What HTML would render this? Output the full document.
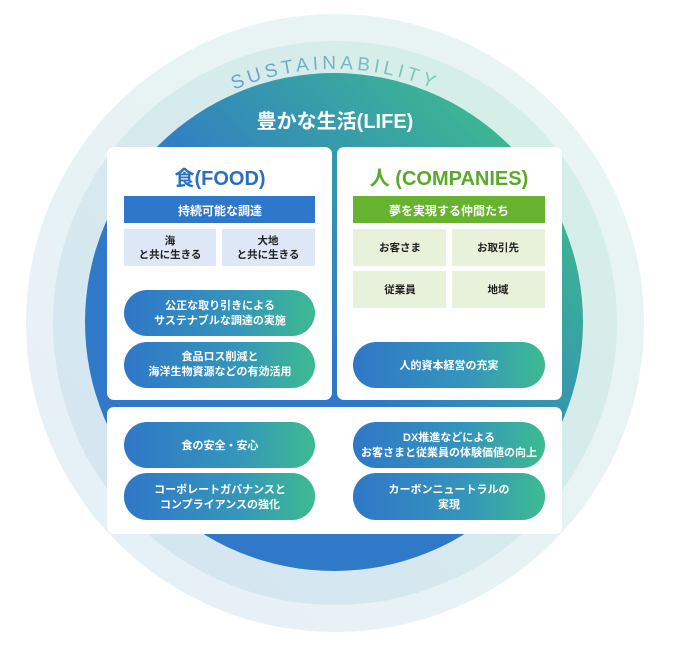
<!DOCTYPE html>
<html><head><meta charset="utf-8"><style>
html,body{margin:0;padding:0;background:#fff;}
svg{display:block;}
text{font-family:"Liberation Sans","Noto Sans CJK JP",sans-serif;}
</style></head><body>
<svg width="679" height="649" viewBox="0 0 679 649" xmlns="http://www.w3.org/2000/svg">
<defs>
<linearGradient id="outer" x1="0" y1="1" x2="1" y2="0">
<stop offset="0" stop-color="#e6eff8"/><stop offset="1" stop-color="#e9f6f1"/></linearGradient>
<linearGradient id="mid" x1="0" y1="1" x2="1" y2="0">
<stop offset="0" stop-color="#d5e4f3"/><stop offset="1" stop-color="#d6f0e6"/></linearGradient>
<linearGradient id="inner" x1="0.2" y1="0.75" x2="0.9" y2="0.1">
<stop offset="0.35" stop-color="#2f79c8"/><stop offset="1" stop-color="#3ebd8d"/></linearGradient>
<linearGradient id="pill" x1="0" y1="0" x2="1" y2="0">
<stop offset="0" stop-color="#2f77c8"/><stop offset="0.6" stop-color="#3596bb"/><stop offset="1" stop-color="#3dbb90"/></linearGradient>
<linearGradient id="sus" x1="0" y1="0" x2="1" y2="0">
<stop offset="0" stop-color="#6b9dd4"/><stop offset="1" stop-color="#7fcfb3"/></linearGradient>
<path id="arc" d="M 80 324 A 255 255 0 0 1 590 324"/>
</defs>
<circle cx="335" cy="323" r="309" fill="url(#outer)"/>
<circle cx="335" cy="323" r="282" fill="url(#mid)"/>
<circle cx="334" cy="322" r="249" fill="url(#inner)"/>
<text font-size="19" fill="url(#sus)" letter-spacing="4" text-anchor="middle"><textPath href="#arc" startOffset="50%">SUSTAINABILITY</textPath></text>
<text x="335" y="128" font-size="20" fill="#fff" text-anchor="middle" font-weight="bold">豊かな生活(LIFE)</text>

<rect x="107" y="147" width="225" height="253" rx="7" fill="#fff"/>
<rect x="337" y="147" width="225" height="253" rx="7" fill="#fff"/>
<rect x="107" y="407" width="455" height="127" rx="7" fill="#fff"/>

<text x="220" y="185" font-size="20" fill="#2b6fc3" text-anchor="middle" font-weight="bold">食(FOOD)</text>
<text x="449" y="185" font-size="20" fill="#5aaa2a" text-anchor="middle" font-weight="bold">人 (COMPANIES)</text>

<rect x="124" y="196" width="191" height="27" fill="#2f77c8"/>
<text x="220" y="215" font-size="12" fill="#fff" text-anchor="middle" font-weight="bold">持続可能な調達</text>
<rect x="353" y="196" width="192" height="27" fill="#67b22f"/>
<text x="449" y="215" font-size="12" fill="#fff" text-anchor="middle" font-weight="bold">夢を実現する仲間たち</text>

<rect x="124" y="229" width="92" height="37" fill="#dee7f6"/>
<rect x="222" y="229" width="93" height="37" fill="#dee7f6"/>
<g font-size="10.5" fill="#222" text-anchor="middle" font-weight="bold">
<text x="170" y="244">海</text><text x="170" y="258">と共に生きる</text>
<text x="268" y="244">大地</text><text x="268" y="258">と共に生きる</text>
</g>
<rect x="353" y="229" width="93" height="37" fill="#e8f2da"/>
<rect x="452" y="229" width="93" height="37" fill="#e8f2da"/>
<rect x="353" y="271" width="93" height="37" fill="#e8f2da"/>
<rect x="452" y="271" width="93" height="37" fill="#e8f2da"/>
<g font-size="10.5" fill="#222" text-anchor="middle" font-weight="bold">
<text x="400" y="251">お客さま</text><text x="498" y="251">お取引先</text>
<text x="400" y="293">従業員</text><text x="498" y="293">地域</text>
</g>

<g fill="url(#pill)">
<rect x="124" y="290" width="191" height="46" rx="23"/>
<rect x="124" y="342" width="191" height="46" rx="23"/>
<rect x="353" y="342" width="192" height="46" rx="23"/>
<rect x="124" y="422" width="191" height="46" rx="23"/>
<rect x="124" y="473" width="191" height="47" rx="23"/>
<rect x="353" y="422" width="192" height="46" rx="23"/>
<rect x="353" y="473" width="192" height="47" rx="23"/>
</g>
<g font-size="11" fill="#fff" text-anchor="middle" font-weight="bold">
<text x="220" y="309">公正な取り引きによる</text><text x="220" y="324">サステナブルな調達の実施</text>
<text x="220" y="360">食品ロス削減と</text><text x="220" y="375">海洋生物資源などの有効活用</text>
<text x="449" y="369">人的資本経営の充実</text>
<text x="220" y="449">食の安全・安心</text>
<text x="220" y="493">コーポレートガバナンスと</text><text x="220" y="508">コンプライアンスの強化</text>
<text x="449" y="441">DX推進などによる</text><text x="449" y="456">お客さまと従業員の体験価値の向上</text>
<text x="449" y="493">カーボンニュートラルの</text><text x="449" y="508">実現</text>
</g>
</svg>
</body></html>
